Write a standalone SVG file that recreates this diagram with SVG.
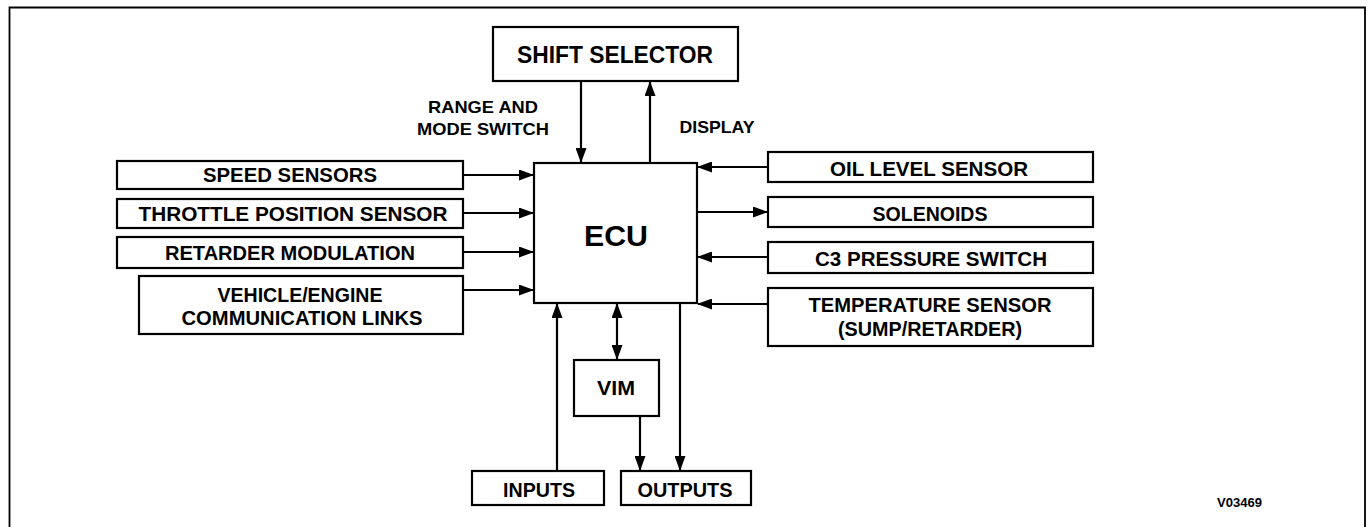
<svg xmlns="http://www.w3.org/2000/svg" width="1368" height="527" viewBox="0 0 1368 527">
<style>
.box{fill:#fff;stroke:#000;stroke-width:2.2}
.t{font-family:"Liberation Sans",Arial,sans-serif;font-weight:bold;fill:#000;text-anchor:middle}
.l{stroke:#000;stroke-width:2.2;fill:none}
</style>
<defs>
<marker id="ah" markerUnits="userSpaceOnUse" markerWidth="15" markerHeight="11" refX="14" refY="5.5" orient="auto-start-reverse"><path d="M0,0 L15,5.5 L0,11 z" fill="#000"/></marker>
</defs>
<rect width="1368" height="527" fill="#fff"/>
<path d="M9.5,527 V7.5 H1365 V527" fill="none" stroke="#000" stroke-width="1.8"/>
<g id="connectors">
<line class="l" x1="581" y1="81" x2="581" y2="162" marker-end="url(#ah)"/>
<line class="l" x1="650" y1="163" x2="650" y2="82" marker-end="url(#ah)"/>
<line class="l" x1="463" y1="175" x2="533" y2="175" marker-end="url(#ah)"/>
<line class="l" x1="463" y1="213" x2="533" y2="213" marker-end="url(#ah)"/>
<line class="l" x1="463" y1="252" x2="533" y2="252" marker-end="url(#ah)"/>
<line class="l" x1="463" y1="290" x2="533" y2="290" marker-end="url(#ah)"/>
<line class="l" x1="768" y1="167" x2="698" y2="167" marker-end="url(#ah)"/>
<line class="l" x1="697" y1="212" x2="767" y2="212" marker-end="url(#ah)"/>
<line class="l" x1="768" y1="257" x2="698" y2="257" marker-end="url(#ah)"/>
<line class="l" x1="768" y1="304" x2="698" y2="304" marker-end="url(#ah)"/>
<line class="l" x1="557" y1="471" x2="557" y2="304" marker-end="url(#ah)"/>
<line class="l" x1="617" y1="304" x2="617" y2="359" marker-start="url(#ah)" marker-end="url(#ah)"/>
<line class="l" x1="640" y1="416" x2="640" y2="470" marker-end="url(#ah)"/>
<line class="l" x1="680" y1="303" x2="680" y2="470" marker-end="url(#ah)"/>
<text class="t" x="483" y="113" font-size="17" textLength="110" lengthAdjust="spacingAndGlyphs">RANGE AND</text>
<text class="t" x="483" y="135" font-size="17" textLength="132" lengthAdjust="spacingAndGlyphs">MODE SWITCH</text>
<text class="t" x="717" y="133" font-size="17" textLength="75" lengthAdjust="spacingAndGlyphs">DISPLAY</text>
</g>
<g id="shift-selector">
<rect class="box" x="493" y="27" width="245" height="54"/>
<text class="t" x="615" y="63" font-size="24" textLength="196" lengthAdjust="spacingAndGlyphs">SHIFT SELECTOR</text>
</g>
<g id="ecu">
<rect class="box" x="534" y="163" width="163" height="140"/>
<text class="t" x="616" y="246" font-size="29" textLength="64" lengthAdjust="spacingAndGlyphs">ECU</text>
</g>
<g id="speed-sensors">
<rect class="box" x="117" y="161" width="346" height="28"/>
<text class="t" x="290" y="182" font-size="21" textLength="174" lengthAdjust="spacingAndGlyphs">SPEED SENSORS</text>
</g>
<g id="throttle-position-sensor">
<rect class="box" x="117" y="199" width="346" height="29"/>
<text class="t" x="293" y="221" font-size="21" textLength="309" lengthAdjust="spacingAndGlyphs">THROTTLE POSITION SENSOR</text>
</g>
<g id="retarder-modulation">
<rect class="box" x="117" y="237" width="346" height="31"/>
<text class="t" x="290" y="260" font-size="21" textLength="250" lengthAdjust="spacingAndGlyphs">RETARDER MODULATION</text>
</g>
<g id="vehicle-engine-links">
<rect class="box" x="139" y="276" width="324" height="58"/>
<text class="t" x="300" y="302" font-size="21" textLength="165" lengthAdjust="spacingAndGlyphs">VEHICLE/ENGINE</text>
<text class="t" x="302" y="325" font-size="21" textLength="241" lengthAdjust="spacingAndGlyphs">COMMUNICATION LINKS</text>
</g>
<g id="oil-level-sensor">
<rect class="box" x="768" y="152" width="325" height="30"/>
<text class="t" x="929" y="176" font-size="21" textLength="198" lengthAdjust="spacingAndGlyphs">OIL LEVEL SENSOR</text>
</g>
<g id="solenoids">
<rect class="box" x="768" y="197" width="325" height="30"/>
<text class="t" x="930" y="221" font-size="21" textLength="115" lengthAdjust="spacingAndGlyphs">SOLENOIDS</text>
</g>
<g id="c3-pressure-switch">
<rect class="box" x="768" y="242" width="325" height="31"/>
<text class="t" x="931" y="266" font-size="21" textLength="232" lengthAdjust="spacingAndGlyphs">C3 PRESSURE SWITCH</text>
</g>
<g id="temperature-sensor">
<rect class="box" x="768" y="288" width="325" height="58"/>
<text class="t" x="930" y="312" font-size="21" textLength="243" lengthAdjust="spacingAndGlyphs">TEMPERATURE SENSOR</text>
<text class="t" x="930" y="336" font-size="21" textLength="184" lengthAdjust="spacingAndGlyphs">(SUMP/RETARDER)</text>
</g>
<g id="vim">
<rect class="box" x="574" y="360" width="85" height="56"/>
<text class="t" x="616" y="395" font-size="20" textLength="38" lengthAdjust="spacingAndGlyphs">VIM</text>
</g>
<g id="inputs">
<rect class="box" x="472" y="471" width="132" height="34"/>
<text class="t" x="539" y="497" font-size="20" textLength="72" lengthAdjust="spacingAndGlyphs">INPUTS</text>
</g>
<g id="outputs">
<rect class="box" x="621" y="471" width="130" height="34"/>
<text class="t" x="685" y="497" font-size="20" textLength="95" lengthAdjust="spacingAndGlyphs">OUTPUTS</text>
</g>
<text class="t" x="1239.5" y="507" font-size="12" textLength="45" lengthAdjust="spacingAndGlyphs">V03469</text>
</svg>
